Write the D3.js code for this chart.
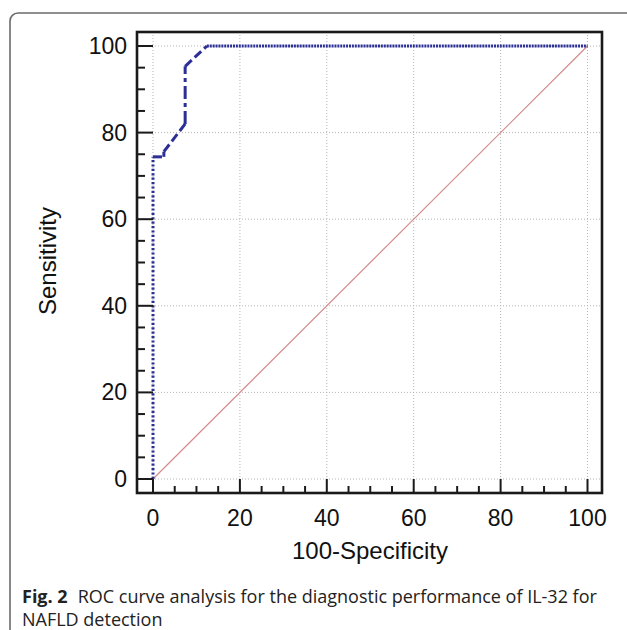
<!DOCTYPE html>
<html>
<head>
<meta charset="utf-8">
<script src="https://cdn.jsdelivr.net/npm/d3@7"></script>
<style>
  body { margin: 0; background: #fff; }
  svg { display: block; }
</style>
</head>
<body>
<div id="chart"></div>
<script>
const svgWidth = 627;
const svgHeight = 630;

// ROC curve points: [100-Specificity, Sensitivity]
const rocX = [0, 0, 2.5, 2.5, 7.4, 7.4, 12.4, 100];
const rocY = [0, 74.4, 74.4, 75.6, 82, 95.3, 100, 100];
const refLine = [[0, 0], [100, 100]];
const majorTicks = [0, 20, 40, 60, 80, 100];
const minorTicks = [5, 10, 15, 25, 30, 35, 45, 50, 55, 65, 70, 75, 85, 90, 95];
const xTitle = "100-Specificity";
const yTitle = "Sensitivity";
const captionBold = "Fig. 2";
const captionLines = ["ROC curve analysis for the diagnostic performance of IL-32 for", "NAFLD detection"];

const frame = {left: 137, right: 602, top: 32, bottom: 493};

const svg = d3.select("#chart").append("svg")
    .attr("width", svgWidth)
    .attr("height", svgHeight);

// card outline with rounded corner
svg.append("path")
    .attr("d", "M10,630 L10,21 A8,8 0 0 1 18,13 L627,13")
    .attr("fill", "none")
    .attr("stroke", "#6b6b6b")
    .attr("stroke-width", 1.6);

const xscale = d3.scaleLinear().domain([0, 100]).range([153, 587.5]);
const yscale = d3.scaleLinear().domain([0, 100]).range([479, 46]);

// grid
const grid = svg.append("g");
majorTicks.forEach(function(v){
    grid.append("line")
        .attr("x1", xscale(v)).attr("x2", xscale(v))
        .attr("y1", frame.top).attr("y2", frame.bottom)
        .attr("stroke", "#b5b5b5").attr("stroke-width", 1)
        .attr("stroke-dasharray", "1,2");
    grid.append("line")
        .attr("y1", yscale(v)).attr("y2", yscale(v))
        .attr("x1", frame.left).attr("x2", frame.right)
        .attr("stroke", "#b5b5b5").attr("stroke-width", 1)
        .attr("stroke-dasharray", "1,2");
});

// reference diagonal
const line = d3.line()
    .x(function(d){ return xscale(d[0]); })
    .y(function(d){ return yscale(d[1]); });

svg.append("path")
    .datum(refLine)
    .attr("d", line)
    .attr("fill", "none")
    .attr("stroke", "#d38a8a")
    .attr("stroke-width", 1.2);

// ROC curve, drawn piece by piece like the original (long straight runs dotted)
const rocPts = rocX.map(function(x, i){ return [x, rocY[i]]; });
for (let i = 0; i < rocPts.length - 1; i++) {
    const a = rocPts[i], b = rocPts[i + 1];
    const len = Math.hypot(b[0] - a[0], b[1] - a[1]);
    if (len < 1.5) {
        svg.append("path").datum([a, b]).attr("d", line)
            .attr("fill", "none").attr("stroke", "#2c2f96").attr("stroke-width", 3);
        continue;
    }
    const vertical = a[0] === b[0];
    svg.append("path")
        .datum([a, b])
        .attr("d", line)
        .attr("fill", "none")
        .attr("stroke", "#2c2f96")
        .attr("stroke-width", 3)
        .attr("stroke-dasharray", len > 50 ? (vertical ? "2.2,2.2" : "2,0.9") : (vertical ? "13,4,4,4" : "9,4"));
}

// ticks, pointing inward from the frame
const ticks = svg.append("g").attr("stroke", "#1a1a1a").attr("stroke-width", 2);
majorTicks.forEach(function(v){
    ticks.append("line").attr("x1", frame.left).attr("x2", xscale(0)).attr("y1", yscale(v)).attr("y2", yscale(v));
    ticks.append("line").attr("y1", frame.bottom).attr("y2", yscale(0)).attr("x1", xscale(v)).attr("x2", xscale(v));
});
minorTicks.forEach(function(v){
    ticks.append("line").attr("x1", frame.left).attr("x2", frame.left + 8).attr("y1", yscale(v)).attr("y2", yscale(v));
    ticks.append("line").attr("y1", frame.bottom).attr("y2", frame.bottom - 7).attr("x1", xscale(v)).attr("x2", xscale(v));
});

// frame
svg.append("rect")
    .attr("x", frame.left).attr("y", frame.top)
    .attr("width", frame.right - frame.left)
    .attr("height", frame.bottom - frame.top)
    .attr("fill", "none")
    .attr("stroke", "#1a1a1a")
    .attr("stroke-width", 2.6);

// tick labels
const labels = svg.append("g")
    .attr("font-family", "'Liberation Sans', Arial, sans-serif")
    .attr("font-size", 23)
    .attr("fill", "#111");
majorTicks.forEach(function(v){
    labels.append("text").attr("x", 127).attr("y", yscale(v) + 8)
        .attr("text-anchor", "end").text(v);
    labels.append("text").attr("x", xscale(v)).attr("y", 526)
        .attr("text-anchor", "middle").text(v);
});

// axis titles
svg.append("text")
    .attr("x", 370).attr("y", 559)
    .attr("text-anchor", "middle")
    .attr("font-family", "'Liberation Sans', Arial, sans-serif")
    .attr("font-size", 24).attr("fill", "#111")
    .text(xTitle);

svg.append("text")
    .attr("transform", "translate(56,261)rotate(-90)")
    .attr("text-anchor", "middle")
    .attr("font-family", "'Liberation Sans', Arial, sans-serif")
    .attr("font-size", 24).attr("fill", "#111")
    .text(yTitle);

// caption
const cap = svg.append("text")
    .attr("x", 22).attr("y", 603)
    .attr("font-family", "'Open Sans', 'Noto Sans', sans-serif")
    .attr("font-size", 18).attr("fill", "#222");
cap.append("tspan").attr("font-weight", "bold").text(captionBold);
cap.append("tspan").attr("dx", 10).text(captionLines[0]);

svg.append("text")
    .attr("x", 22).attr("y", 626)
    .attr("font-family", "'Open Sans', 'Noto Sans', sans-serif")
    .attr("font-size", 18).attr("fill", "#222")
    .text(captionLines[1]);
</script>
</body>
</html>
